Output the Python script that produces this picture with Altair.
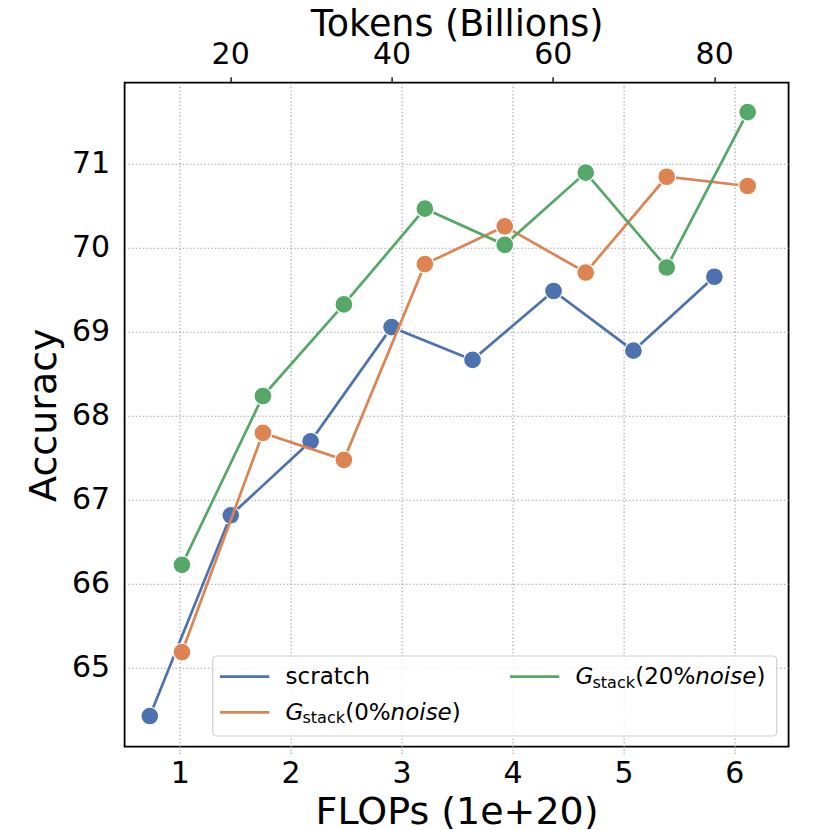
import altair as alt
import pandas as pd

# ---------------- data ----------------
series_names = ["scratch", "G_stack(0%noise)", "G_stack(20%noise)"]
series_colors = ["#4C72B0", "#DD8452", "#55A868"]

scratch_flops = [0.73, 1.46, 2.18, 2.91, 3.64, 4.37, 5.09, 5.82]
scratch_acc = [64.42, 66.81, 67.69, 69.05, 68.66, 69.48, 68.77, 69.65]

gstack_flops = [1.02, 1.75, 2.48, 3.21, 3.93, 4.66, 5.39, 6.12]
gstack0_acc = [65.18, 67.79, 67.47, 69.80, 70.25, 69.70, 70.84, 70.73]
gstack20_acc = [66.22, 68.23, 69.32, 70.46, 70.03, 70.89, 69.76, 71.61]

flops_ticks = [1, 2, 3, 4, 5, 6]
acc_ticks = [65, 66, 67, 68, 69, 70, 71]
token_ticks = [20, 40, 60, 80]
tokens_per_flop = 13.75  # 1e20 FLOPs -> billions of tokens

x_domain = [0.503, 6.489]
y_domain = [64.055, 71.96]
tok_domain = [x_domain[0] * tokens_per_flop, x_domain[1] * tokens_per_flop]

W, H = 664, 664
FONT = "DejaVu Sans"
GRID = "#9a9a9a"

series_data = [
    (series_names[0], scratch_flops, scratch_acc, series_colors[0]),
    (series_names[1], gstack_flops, gstack0_acc, series_colors[1]),
    (series_names[2], gstack_flops, gstack20_acc, series_colors[2]),
]

x_scale = alt.Scale(domain=x_domain, nice=False, zero=False)
y_scale = alt.Scale(domain=y_domain, nice=False, zero=False)

x_axis = alt.Axis(
    orient="bottom", values=flops_ticks, format="d", title="FLOPs (1e+20)",
    grid=True, gridColor=GRID, gridDash=[1.3, 2.3], gridWidth=1.1,
    domain=False, ticks=True, tickSize=7, tickColor=GRID, tickDash=[1.3, 1.5],
    tickWidth=1.1, labelPadding=5, labelFontSize=30, labelFont=FONT, labelColor="black",
    labelOverlap=False, labelFlush=False,
    titleFontSize=38, titleFont=FONT, titleFontWeight="normal", titleColor="black",
    titleX=W / 2, titleY=77.3, titleAlign="center", titleBaseline="alphabetic",
)
y_axis = alt.Axis(
    orient="left", values=acc_ticks, format="d", title="Accuracy",
    grid=True, gridColor=GRID, gridDash=[1.3, 2.3], gridWidth=1.1,
    domain=False, ticks=False, labelPadding=15, labelFontSize=30, labelFont=FONT,
    labelColor="black", labelOverlap=False,
    titleFontSize=38, titleFont=FONT, titleFontWeight="normal", titleColor="black",
    titleX=-69.5, titleY=H / 2, titleAngle=270, titleAlign="center",
    titleBaseline="alphabetic",
)
top_axis = alt.Axis(
    orient="top", values=token_ticks, format="d", title="Tokens (Billions)",
    grid=False, domain=False, ticks=True, tickSize=6, tickColor="black", tickWidth=1.3,
    labelPadding=7, labelFontSize=30, labelFont=FONT, labelColor="black",
    labelOverlap=False, labelFlush=False,
    titleFontSize=36.5, titleFont=FONT, titleFontWeight="normal", titleColor="black",
    titleX=W / 2, titleY=-47, titleAlign="center", titleBaseline="alphabetic",
)

layers = []
for i, (name, xs, ys, col) in enumerate(series_data):
    df = pd.DataFrame({"flops": xs, "acc": ys, "idx": list(range(len(xs))), "series": name})
    base = alt.Chart(df).encode(
        x=alt.X("flops:Q", scale=x_scale, axis=x_axis),
        y=alt.Y("acc:Q", scale=y_scale, axis=y_axis),
        order="idx:Q",
    )
    layers.append(base.mark_line(color=col, strokeWidth=2.7))
    layers.append(base.mark_circle(color=col, size=320, opacity=1, stroke="white", strokeWidth=1.2))

main = alt.layer(*layers)

top = alt.Chart(pd.DataFrame({"tokens": token_ticks})).mark_point(opacity=0).encode(
    x=alt.X("tokens:Q", scale=alt.Scale(domain=tok_domain, nice=False, zero=False), axis=top_axis),
    y=alt.value(0),
)

# ---------------- custom legend (mixed italic / subscript text) ----------------
one = pd.DataFrame({"a": [0]})
legend_layers = [
    alt.Chart(one).mark_rect(fill="white", fillOpacity=0.8, stroke="#d0d0d0",
                             strokeWidth=1.2, cornerRadius=4).encode(
        x=alt.value(88.1), x2=alt.value(652.1), y=alt.value(573.3), y2=alt.value(653.3))
]

# advance widths (em) of DejaVu Sans glyphs for laying out legend text pieces
adv = {"G": 0.775, "s": 0.521, "t": 0.392, "a": 0.613, "c": 0.550, "k": 0.579,
       "(": 0.390, ")": 0.390, "0": 0.636, "2": 0.636, "%": 0.950,
       "n": 0.634, "o": 0.612, "i": 0.278, "e": 0.615}


def width(txt, fs):
    return sum(adv[ch] for ch in txt) * fs


FS = 23
SUB = 16.1


def txt(t, x, y, fs, italic=False):
    kw = dict(text=t, align="left", baseline="alphabetic", fontSize=fs, font=FONT, color="black")
    if italic:
        kw["fontStyle"] = "italic"
    return alt.Chart(one).mark_text(**kw).encode(x=alt.value(x), y=alt.value(y))


def handle(x0, x1, y, col):
    return alt.Chart(one).mark_rule(color=col, strokeWidth=2.7).encode(
        x=alt.value(x0), x2=alt.value(x1), y=alt.value(y))


def gstack_label(x0, y, pct):
    parts = []
    x = x0
    parts.append(txt("G", x, y, FS, italic=True))
    x += width("G", FS) - 1
    parts.append(txt("stack", x, y + 3.5, SUB))
    x += width("stack", SUB)
    p = "(" + pct + "%"
    parts.append(txt(p, x, y, FS))
    x += width(p, FS)
    parts.append(txt("noise", x, y, FS, italic=True))
    x += width("noise", FS)
    parts.append(txt(")", x, y, FS))
    return parts


row1, row2 = 594.0, 629.6
base1, base2 = 601.8, 637.3
legend_layers.append(handle(95.4, 144.7, row1, series_colors[0]))
legend_layers.append(handle(95.4, 144.7, row2, series_colors[1]))
legend_layers.append(handle(385.4, 434.7, row1, series_colors[2]))
legend_layers.append(txt("scratch", 161.0, base1, FS))
legend_layers += gstack_label(161.0, base2, "0")
legend_layers += gstack_label(451.0, base1, "20")

chart = alt.layer(main, top, *legend_layers).resolve_scale(x="independent").properties(
    width=W, height=H,
    padding={"left": 116.6, "top": 74.7, "right": 20, "bottom": 82},
    autosize=alt.AutoSizeParams(type="none"),
    background="white",
).configure_view(stroke="black", strokeWidth=1.8)

chart.save("out.html", embed_options={"renderer": "svg", "actions": False})
